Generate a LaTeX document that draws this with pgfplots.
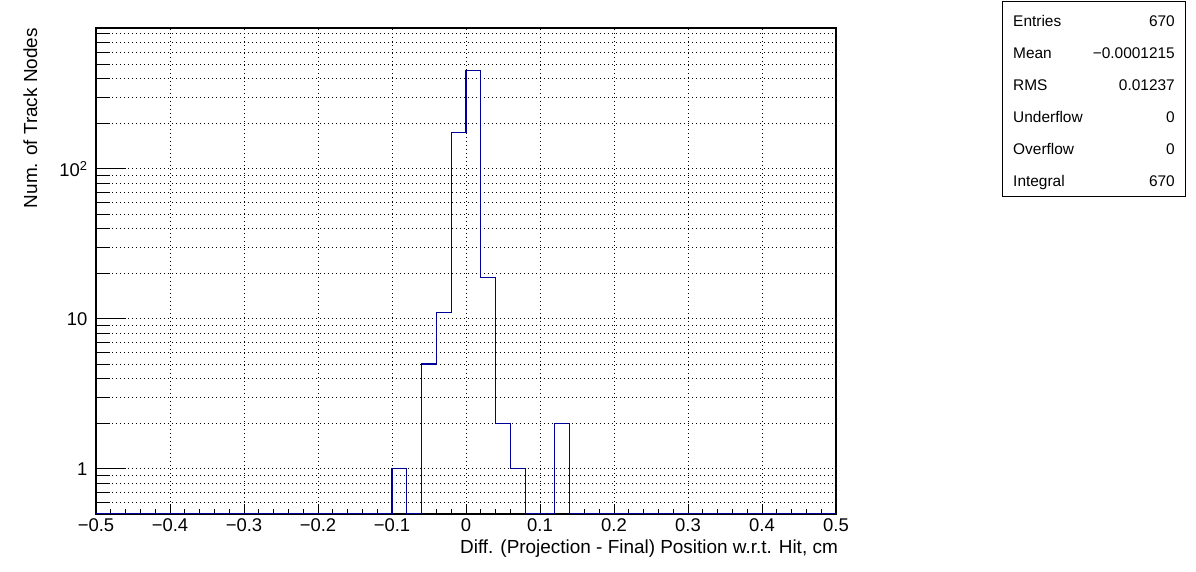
\documentclass[border=0pt]{standalone}
\usepackage{fontspec}
\setmainfont{Liberation Sans}
\usepackage{pgfplots}
\pgfplotsset{compat=1.18}
\definecolor{rootblue}{RGB}{0,0,153}
\begin{document}
\begin{tikzpicture}[x=1bp,y=1bp]
\useasboundingbox (0,0) rectangle (1196,572);
\begin{axis}[
  at={(96bp,58bp)}, anchor=south west,
  scale only axis, width=740bp, height=486bp,
  xmin=-0.5, xmax=0.5,
  ymode=log, ymin=0.5, ymax=871,
  axis line style={line width=1.6bp},
  xtick={-0.5,-0.4,-0.3,-0.2,-0.1,0,0.1,0.2,0.3,0.4,0.5},
  xticklabels={−0.5,−0.4,−0.3,−0.2,−0.1,0,0.1,0.2,0.3,0.4,0.5},
  minor x tick num=4,
  ytick={1,10,100},
  yticklabels={1,10,10\textsuperscript{2}},
  minor ytick={0.6,0.7,0.8,0.9,2,3,4,5,6,7,8,9,20,30,40,50,60,70,80,90,200,300,400,500,600,700,800},
  tick align=inside,
  xtick pos=bottom, ytick pos=left,
  xtick style={/pgfplots/major tick length=10bp, /pgfplots/minor tick length=5bp, black, line width=1bp},
  ytick style={/pgfplots/major tick length=30bp, /pgfplots/minor tick length=14bp, black, line width=1bp},
  xmajorgrids, ymajorgrids, yminorgrids,
  major grid style={black, line width=0.9bp, dash pattern=on 1.2bp off 2.8bp},
  minor grid style={black, line width=0.9bp, dash pattern=on 1.2bp off 2.8bp},
  ticklabel style={font=\fontsize{18.5}{22}\selectfont},
  xticklabel style={yshift=-1bp},
  yticklabel style={xshift=-5bp},
  axis on top=false,
]
\addplot[const plot mark left, rootblue, line width=1.1bp] coordinates {
  (-0.5,0.5) (-0.1,1) (-0.08,0.5) (-0.06,5) (-0.04,11) (-0.02,175) (0,454)
  (0.02,19) (0.04,2) (0.06,1) (0.08,0.5) (0.12,2) (0.14,0.5) (0.5,0.5)
};
\end{axis}
\node[anchor=base east, inner sep=0, font=\fontsize{19}{22}\selectfont] at (838,18) {Diff. (Projection - Final) Position w.r.t. Hit, cm};
\node[anchor=base east, rotate=90, inner sep=0, font=\fontsize{19}{22}\selectfont] at (37,544) {Num. of Track Nodes};
\draw[black, line width=1bp, fill=white] (1002,375) rectangle (1185,570);
\foreach \lab/\val/\yy in {Entries/670/27, Mean/−0.0001215/59, RMS/0.01237/91, Underflow/0/123, Overflow/0/155, Integral/670/187} {
  \node[anchor=base west, inner sep=0, font=\fontsize{15.5}{18}\selectfont] at (1013,572-\yy) {\lab};
  \node[anchor=base east, inner sep=0, font=\fontsize{15.5}{18}\selectfont] at (1175,572-\yy) {\val};
}
\end{tikzpicture}
\end{document}
